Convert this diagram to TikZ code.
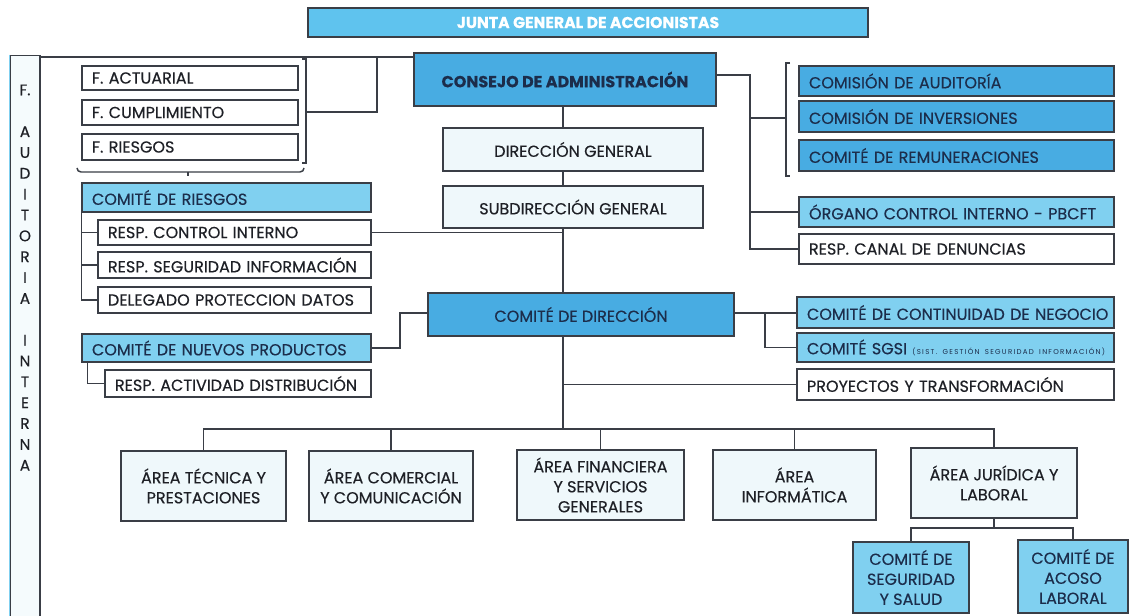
\documentclass[tikz,border=0pt]{standalone}
\usepackage{fontspec}
\setmainfont{Poppins}[FakeBold=0.4]
\newfontfamily\tinyf{Poppins}[LetterSpace=18]
\definecolor{juntac}{RGB}{95,195,238}
\definecolor{midblue}{RGB}{72,172,226}
\definecolor{lightblue}{RGB}{128,208,240}
\definecolor{paleblue}{RGB}{239,248,251}
\definecolor{edge}{RGB}{58,62,70}
\definecolor{navy}{RGB}{28,45,75}
\definecolor{ink}{RGB}{30,32,38}
\tikzset{
 box/.style={draw=edge, line width=0.9pt, inner sep=0pt, font=\fontsize{12}{15}\selectfont, text=ink},
 midbox/.style={box, fill=midblue, text=navy},
 ltbox/.style={box, fill=lightblue, text=navy},
 palebox/.style={box, fill=paleblue},
 whitebox/.style={box, fill=white},
 juntabox/.style={box, fill=juntac, text=white, font=\bfseries\fontsize{11.8}{13}\selectfont},
 consbox/.style={midbox, font=\bfseries\fontsize{12}{14}\selectfont},
 conn/.style={draw=edge, line width=1.1pt},
}
\newcommand\bx[7]{% name x1 y1 x2 y2 style text (left aligned)
 \pgfmathsetmacro\bxw{(#4-#2)*0.75}%
 \pgfmathsetmacro\bxh{(#5-#3)*0.75}%
 \pgfmathsetmacro\bxt{\bxw-15}%
 \node[#6, minimum width=\bxw pt, minimum height=\bxh pt, text width=\bxt pt, align=left] (#1) at ({(#2+#4)/2},{(#3+#5)/2}) {\mbox{#7}};}
\newcommand\bc[7]{% centered
 \pgfmathsetmacro\bxw{(#4-#2)*0.75}%
 \pgfmathsetmacro\bxh{(#5-#3)*0.75}%
 \node[#6, minimum width=\bxw pt, minimum height=\bxh pt, align=center] (#1) at ({(#2+#4)/2},{(#3+#5)/2}) {#7};}
\begin{document}
\begin{tikzpicture}[x=0.75pt,y=-0.75pt]
\useasboundingbox[fill=white] (0,0) rectangle (1131,616);
% audit column
\node[draw=edge, line width=0.9pt, fill=paleblue!60, minimum width=22.5pt, minimum height=431pt, inner sep=0pt] (aud) at (25,342.5) {};
\draw[draw=lightblue, line width=1.2pt] (aud.north west) -- (aud.south west);
\node[font=\fontsize{11.5}{15.64}\selectfont, text=ink, align=center, inner sep=0pt] (audt) at (25,277.6)
 {F.\\\mbox{}\\A\\U\\D\\I\\T\\O\\R\\I\\A\\\mbox{}\\I\\N\\T\\E\\R\\N\\A};
% top
\bc{junta}{308}{8}{868}{37}{juntabox}{JUNTA GENERAL DE ACCIONISTAS}
\bc{cons}{414}{53}{716}{106}{consbox}{CONSEJO DE ADMINISTRACIÓN}
\bc{dg}{443}{128}{703}{171}{palebox}{DIRECCIÓN GENERAL}
\bc{sg}{443}{186}{703}{228}{palebox}{SUBDIRECCIÓN GENERAL}
\bc{cdir}{428}{293}{734}{336}{midbox}{COMITÉ DE DIRECCIÓN}
% left
\bx{fact}{82}{66}{298}{90}{whitebox}{F. ACTUARIAL}
\bx{fcum}{82}{100}{298}{125}{whitebox}{F. CUMPLIMIENTO}
\bx{fries}{82}{134}{298}{160}{whitebox}{F. RIESGOS}
\bx{cries}{82}{183}{371}{212}{ltbox}{COMITÉ DE RIESGOS}
\bx{rci}{98}{220}{371}{245}{whitebox}{RESP. CONTROL INTERNO}
\bx{rsi}{98}{252}{371}{278}{whitebox}{RESP. SEGURIDAD INFORMACIÓN}
\bx{dpd}{98}{287}{371}{313}{whitebox}{DELEGADO PROTECCION DATOS}
\bx{cnp}{82}{334}{371}{362}{ltbox}{COMITÉ DE NUEVOS PRODUCTOS}
\bx{rad}{105}{370}{371}{397}{whitebox}{RESP. ACTIVIDAD DISTRIBUCIÓN}
% right
\bx{caud}{799}{66}{1114}{96}{midbox}{COMISIÓN DE AUDITORÍA}
\bx{cinv}{799}{101}{1114}{132}{midbox}{COMISIÓN DE INVERSIONES}
\bx{crem}{799}{140}{1114}{171}{midbox}{COMITÉ DE REMUNERACIONES}
\bx{org}{799}{197}{1114}{227}{ltbox}{ÓRGANO CONTROL INTERNO - PBCFT}
\bx{canal}{799}{234}{1114}{264}{whitebox}{RESP. CANAL DE DENUNCIAS}
\bx{ccn}{797}{297}{1114}{328}{ltbox}{COMITÉ DE CONTINUIDAD DE NEGOCIO}
\bx{csgsi}{797}{333}{1114}{362}{ltbox}{COMITÉ SGSI {\tinyf\fontsize{5.3}{6}\selectfont (SIST. GESTIÓN SEGURIDAD INFORMACIÓN)}}
\bx{proy}{797}{369}{1114}{400}{whitebox}{PROYECTOS Y TRANSFORMACIÓN}
% areas
\bc{atec}{121}{451}{286}{521}{palebox}{ÁREA TÉCNICA Y\\PRESTACIONES}
\bc{acom}{309}{451}{473}{521}{palebox}{ÁREA COMERCIAL\\Y COMUNICACIÓN}
\bc{afin}{517}{450}{684}{520}{palebox}{ÁREA FINANCIERA\\Y SERVICIOS\\GENERALES}
\bc{ainf}{713}{450}{876}{520}{palebox}{ÁREA\\INFORMÁTICA}
\bc{ajur}{911}{448}{1077}{518}{palebox}{ÁREA JURÍDICA Y\\LABORAL}
\bc{cseg}{853}{542}{969}{613}{ltbox}{COMITÉ DE\\SEGURIDAD\\Y SALUD}
\bc{caco}{1018}{540}{1128}{613}{ltbox}{COMITÉ DE\\ACOSO\\LABORAL}
% junctions
\coordinate (audtop) at (40,57);
\coordinate (fj) at (377,57);
\coordinate (fbr) at (306,112);
\coordinate (rj) at (750,75);
\coordinate (cbr) at (786,118);
\coordinate (nj) at (400,313);
\coordinate (cj) at (765,313);
\coordinate (bar) at (563,429);
\coordinate (jj) at (991,528);
% connectors
\draw[conn] (audtop) -- (audtop -| cons.west);
\draw[conn] (fbr) -| (fj);
\draw[conn] (302,59) -- (306,59) -- (306,163) -- (302,163);
\draw[conn] (77,168) to[out=-90,in=180] (81,172) -- (300,172) to[out=0,in=-90] (304,168);
\draw[conn] (188,172) -- (188,176);
\draw[conn] (bar |- cons.south) -- (bar |- dg.north);
\draw[conn] (bar |- dg.south) -- (bar |- sg.north);
\draw[conn] (bar |- sg.south) -- (bar |- cdir.north);
\draw[conn] (rci.east) -- (rci.east -| bar);
\draw[conn] (bar |- cdir.south) -- (bar);
\draw[conn] (bar |- proy.west) -- (proy.west);
\draw[conn] (atec.north) -- (atec.north |- bar) -- (ajur.north |- bar) -- (ajur.north);
\draw[conn] (acom.north) -- (acom.north |- bar);
\draw[conn] (afin.north) -- (afin.north |- bar);
\draw[conn] (ainf.north) -- (ainf.north |- bar);
\draw[conn] (cons.east |- rj) -- (rj) -- (rj |- canal.west) -- (canal.west);
\draw[conn] (rj |- org.west) -- (org.west);
\draw[conn] (rj |- cbr) -- (cbr);
\draw[conn] (790,63) -- (786,63) -- (786,176) -- (790,176);
\draw[conn] (cdir.east |- cj) -- (cj -| ccn.west);
\draw[conn] (cj) |- (csgsi.west);
\draw[conn] (cnp.east) -- (cnp.east -| nj) -- (nj) -- (nj -| cdir.west);
\draw[conn] (cries.south west) |- (dpd.west);
\draw[conn] (cries.south west |- rci.west) -- (rci.west);
\draw[conn] (cries.south west |- rsi.west) -- (rsi.west);
\draw[conn] ([xshift=4.5pt]cnp.south west) |- (rad.west);
\draw[conn] (ajur.south) -- (ajur.south |- jj);
\draw[conn] (cseg.north) -- (cseg.north |- jj) -- (caco.north |- jj) -- (caco.north);
\end{tikzpicture}
\end{document}
